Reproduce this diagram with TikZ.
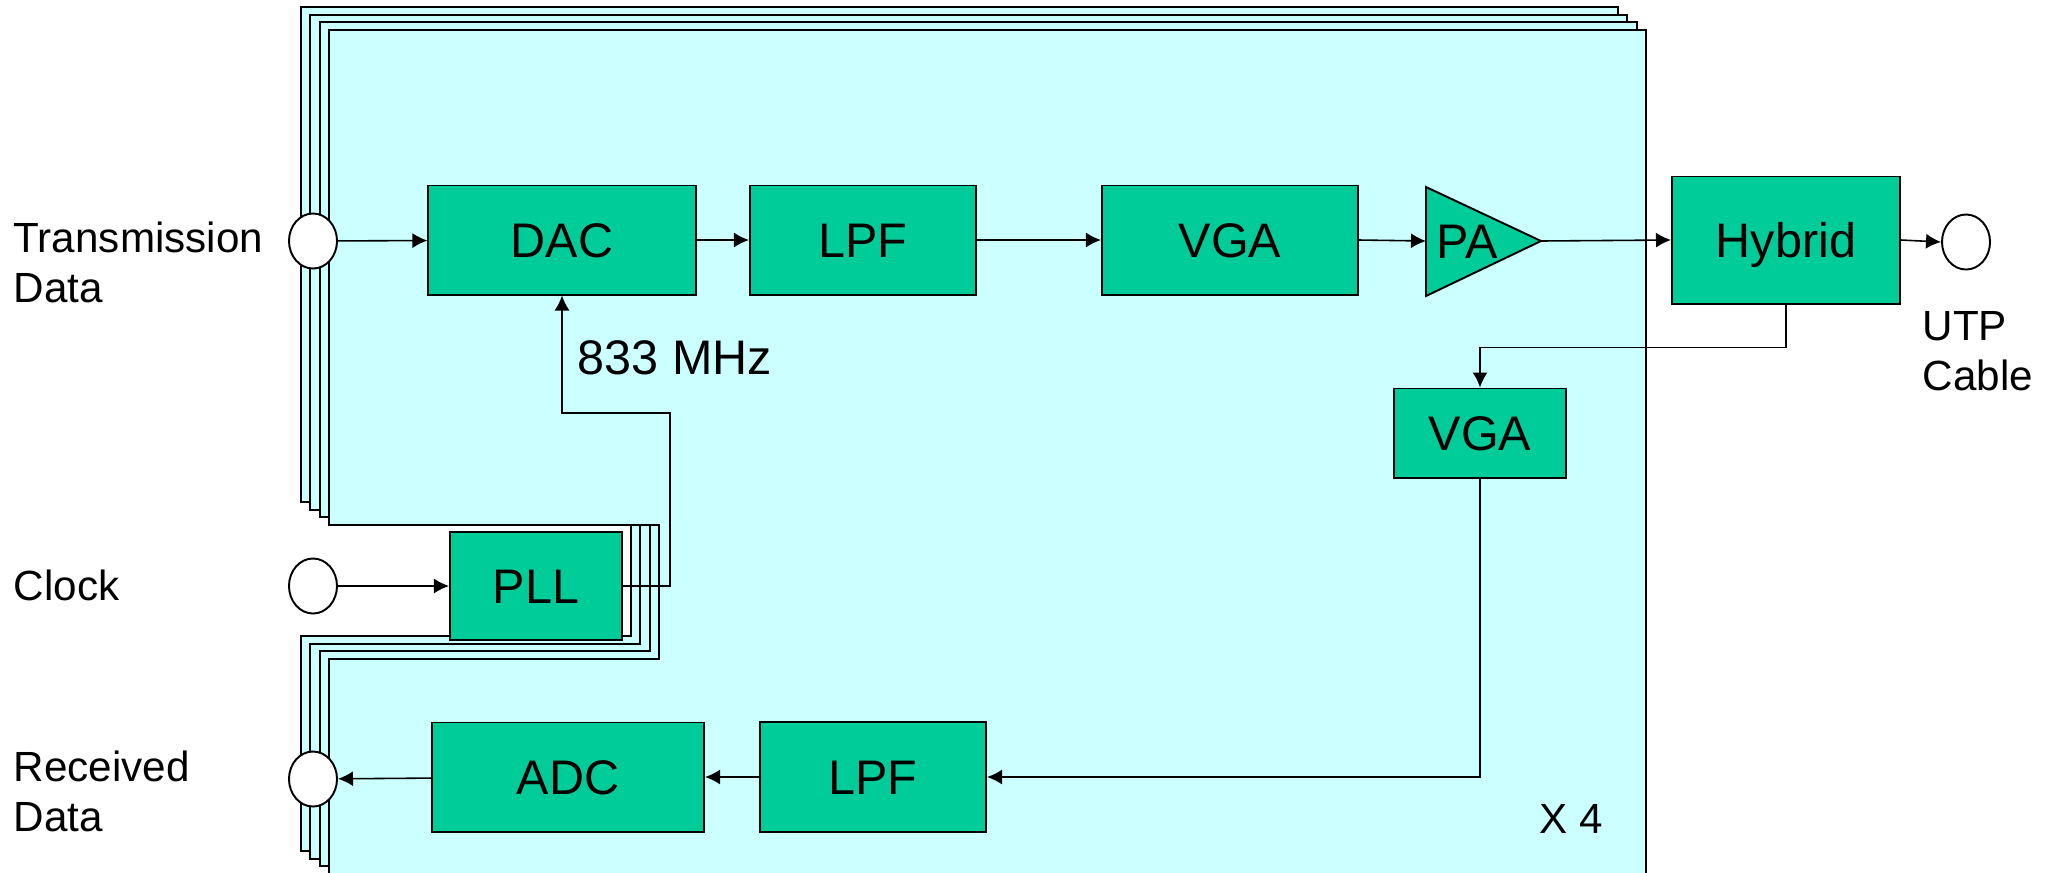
\documentclass[tikz,border=0pt]{standalone}
\usepackage{fontspec}
\setmainfont{Liberation Sans}
\usetikzlibrary{positioning,arrows.meta,shapes.geometric}
\definecolor{cPanel}{RGB}{204,255,255}
\definecolor{cBlock}{RGB}{0,204,153}

\begin{document}
\begin{tikzpicture}[x=0.01cm,y=-0.01cm,
   blk/.style={draw,fill=cBlock,line width=0.55pt,inner sep=0pt,font=\fontsize{13.8}{15}\selectfont,text height=9.9pt,text depth=0pt},
   port/.style={draw,ellipse,fill=white,line width=0.55pt,minimum width=4.8mm,minimum height=5.5mm,inner sep=0pt},
   lbl/.style={font=\fontsize{12}{14.2}\selectfont,align=left,inner sep=0pt},
   sig/.style={line width=0.45pt,-{Latex[length=1.5mm,width=1.5mm]}}]
  \clip (0,0) rectangle (2055,872);
  % four stacked channel panels, back to front
  \foreach \k in {0,1,2,3}
    \draw[fill=cPanel,line width=0.6pt,shift={(\k*9.3,\k*7.7)}]
      (301,7) -- (1618,7) -- (1618,851) -- (301,851) -- (301,636)
      -- (631,636) -- (631,502) -- (301,502) -- cycle;
  % transmit path
  \node[port] (tx) at (313,241) {};
  \node[blk,minimum width=26.7mm,minimum height=10.9mm] (dac) at (562,240) {DAC};
  \node[blk,minimum width=22.6mm,minimum height=10.9mm] (lpf) at (863,240) {LPF};
  \node[blk,minimum width=25.6mm,minimum height=10.9mm] (vga) at (1230,240) {VGA};
  \draw[blk] (1426,187) -- (1541,241) coordinate (paout) -- (1426,296) -- cycle;
  \coordinate (pain) at (1426,241);
  \node[lbl,font=\fontsize{13.8}{15}\selectfont] (pa) at (1467,242) {PA};
  \node[blk,minimum width=22.8mm,minimum height=12.7mm] (hyb) at (1786,240) {Hybrid};
  \node[port] (utp) at (1966,242) {};
  % receive path
  \node[blk,minimum width=17.2mm,minimum height=8.9mm] (vgb) at (1480,433) {VGA};
  \node[blk,minimum width=22.6mm,minimum height=11mm] (lpfb) at (873,777) {LPF};
  \node[blk,minimum width=27.2mm,minimum height=10.9mm] (adc) at (568,777) {ADC};
  \node[port] (rx) at (313,779) {};
  % clock
  \node[port] (clk) at (313,586) {};
  \node[blk,minimum width=17.2mm,minimum height=10.8mm] (pll) at (536,586) {PLL};
  \coordinate (bend) at (670,413);
  % labels
  \node[lbl,anchor=west] (ltx) at (13,262) {Transmission\\Data};
  \node[lbl,anchor=west] (lclk) at (13,585) {Clock};
  \node[lbl,anchor=west] (lrx) at (13,791) {Received\\Data};
  \node[lbl,anchor=west] (lutp) at (1922,351) {UTP\\Cable};
  \node[lbl,anchor=west,font=\fontsize{13.8}{15}\selectfont] (lfreq) at (577,358) {833 MHz};
  \node[lbl] (lx) at (1571,819) {X 4};
  % signals
  \draw[sig] (tx) -- (dac);
  \draw[sig] (dac) -- (lpf);
  \draw[sig] (lpf) -- (vga);
  \draw[sig] (vga.east) -- (pain);
  \draw[sig] (paout) -- (hyb.west);
  \draw[sig] (hyb.east) -- (utp.west);
  \draw[sig] (hyb.south) -- ++(0,43) -| (vgb.north);
  \draw[sig] (vgb.south) |- (lpfb.east);
  \draw[sig] (lpfb) -- (adc);
  \draw[sig] (adc) -- (rx);
  \draw[sig] (clk) -- (pll);
  \draw[sig] (pll.east) -| (bend) -| (dac.south);
\end{tikzpicture}
\end{document}
